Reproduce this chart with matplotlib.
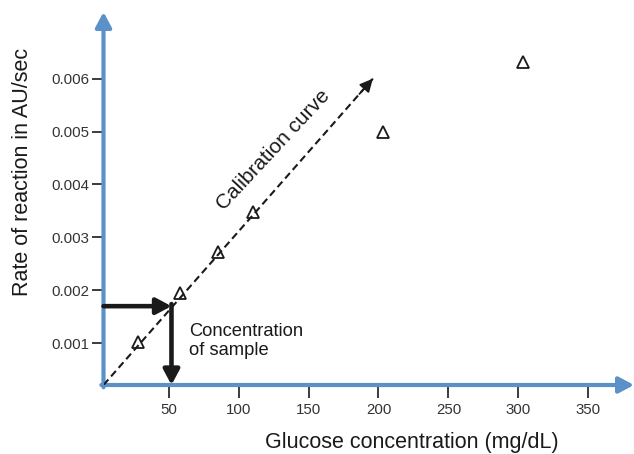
import matplotlib
matplotlib.use('Agg')
import matplotlib.pyplot as plt

plt.rcParams['font.family'] = ['Liberation Sans', 'DejaVu Sans']

glucose = [28, 58, 85, 110, 203, 303]
rate = [0.00103, 0.00195, 0.00272, 0.00348, 0.00499, 0.00632]

# calibration curve (start, arrow tip)
calib_x = [3.4, 196]
calib_y = [0.00021, 0.0060]

# unknown sample read-off
sample_conc = 52
sample_rate = 0.0017

x_ticks = [50, 100, 150, 200, 250, 300, 350]
y_ticks = [0.001, 0.002, 0.003, 0.004, 0.005, 0.006]
y_tick_labels = ['0.001', '0.002', '0.003', '0.004', '0.005', '0.006']

x_lim = (3.4, 382.7)
y_lim = (0.00021, 0.00726)

blue = '#5b90c8'
ink = '#1a1a1a'

fig = plt.figure(figsize=(6.34, 4.54), dpi=100)
ax = fig.add_axes([103.5 / 634, 69 / 454, 530.5 / 634, 373 / 454])
ax.set_xlim(*x_lim)
ax.set_ylim(*y_lim)
for s in ax.spines.values():
    s.set_visible(False)

# blue axis arrows
axis_arrow = dict(arrowstyle='-|>,head_length=0.9,head_width=0.48', mutation_scale=10,
                  color=blue, lw=3.0, shrinkA=0, shrinkB=0)
ax.annotate('', xy=(1.0, 0), xytext=(-0.004, 0), xycoords='axes fraction',
            arrowprops=axis_arrow, annotation_clip=False)
ax.annotate('', xy=(0, 1.0), xytext=(0, -0.006), xycoords='axes fraction',
            arrowprops=axis_arrow, annotation_clip=False)

# ticks
ax.set_xticks(x_ticks)
ax.set_yticks(y_ticks)
ax.set_yticklabels(y_tick_labels)
ax.tick_params(axis='x', direction='out', length=9, width=1.2, color=ink,
               pad=4, labelsize=10.8, labelcolor='#333333')
ax.tick_params(axis='y', direction='out', length=9, width=1.2, color=ink,
               pad=1.5, labelsize=10.8, labelcolor='#333333')

# calibration curve, dashed with arrow head
ax.plot(calib_x, calib_y, color=ink, lw=1.5, ls=(0, (3.5, 2.0)), zorder=3)
frac = 0.95
ax.annotate('', xy=(calib_x[1], calib_y[1]),
            xytext=(calib_x[0] + frac * (calib_x[1] - calib_x[0]),
                    calib_y[0] + frac * (calib_y[1] - calib_y[0])),
            arrowprops=dict(arrowstyle='-|>,head_length=0.65,head_width=0.32',
                            mutation_scale=12, color=ink, lw=1.3,
                            shrinkA=0, shrinkB=0))

# data triangles
ax.plot(glucose, rate, ls='none', marker='^', ms=9, mfc='none',
        mec=ink, mew=1.3, zorder=4)

# sample arrows
samp_arrow = dict(arrowstyle='-|>,head_length=0.75,head_width=0.4', mutation_scale=12,
                  color=ink, lw=3.3, shrinkA=0, shrinkB=0)
ax.annotate('', xy=(sample_conc, sample_rate), xytext=(x_lim[0], sample_rate),
            arrowprops=samp_arrow)
ax.annotate('', xy=(sample_conc, y_lim[0]), xytext=(sample_conc, sample_rate + 0.00004),
            arrowprops=samp_arrow)

# annotations
ax.text(125, 0.00465, 'Calibration curve', rotation=47, rotation_mode='anchor',
        ha='center', va='center', fontsize=15, color=ink)
ax.text(64.5, 0.00138, 'Concentration\nof sample', ha='left', va='top',
        fontsize=13.2, color=ink, linespacing=1.15)

ax.set_xlabel('Glucose concentration (mg/dL)', fontsize=15.5, color=ink, va='center')
ax.xaxis.set_label_coords(0.5815, -0.153)
ax.set_ylabel('Rate of reaction in AU/sec', fontsize=15.5, color=ink, va='center')
ax.yaxis.set_label_coords(-0.152, 0.571)

fig.savefig('out.png', dpi=100)
